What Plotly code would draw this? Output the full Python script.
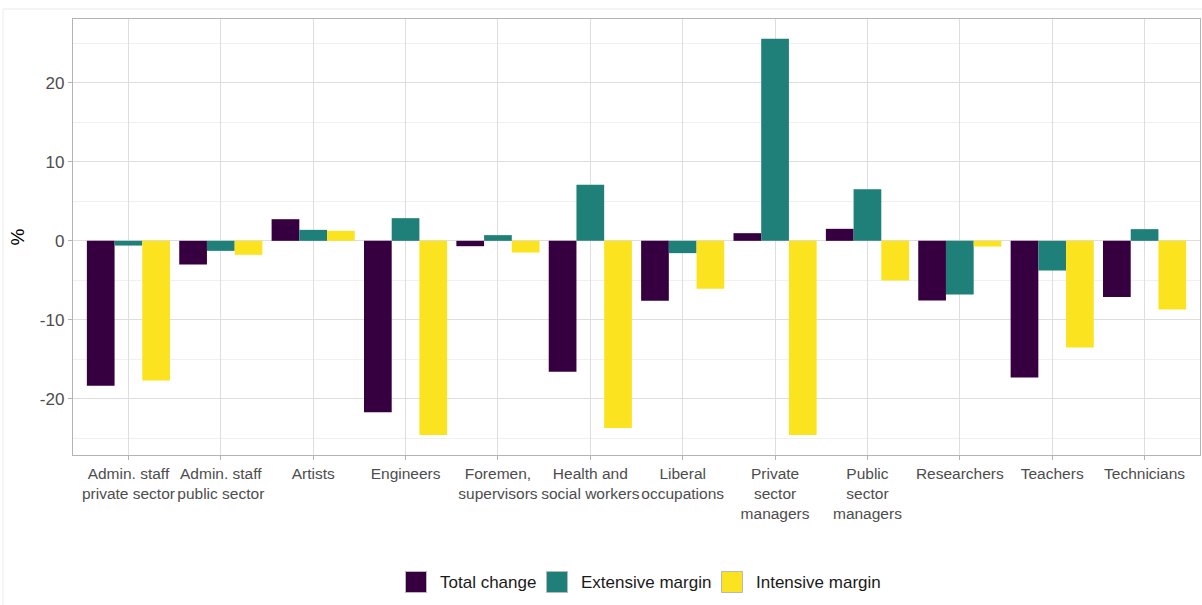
import plotly.graph_objects as go

categories = ["Admin. staff<br>private sector", "Admin. staff<br>public sector", "Artists", "Engineers",
              "Foremen,<br>supervisors", "Health and<br>social workers", "Liberal<br>occupations",
              "Private<br>sector<br>managers", "Public<br>sector<br>managers", "Researchers",
              "Teachers", "Technicians"]
total_change = [-18.35, -3.0, 2.74, -21.7, -0.68, -16.6, -7.59, 0.97, 1.52, -7.55, -17.3, -7.13]
extensive_margin = [-0.6, -1.27, 1.39, 2.87, 0.72, 7.09, -1.56, 25.6, 6.54, -6.79, -3.76, 1.48]
intensive_margin = [-17.7, -1.77, 1.27, -24.6, -1.48, -23.7, -6.08, -24.6, -5.02, -0.72, -13.5, -8.69]
y_ticks = [-20, -10, 0, 10, 20]
series_names = ["Total change", "Extensive margin", "Intensive margin"]
series_colors = ["#360040", "#1F7F79", "#FBE41F"]

W, H = 1202, 605
L, R, T, B = 73, 2, 19, 150
PW, PH = W - L - R, H - T - B


def px_x(p):
    return (p - L) / PW


def px_y(p):
    return (H - B - p) / PH


fig = go.Figure()
xs = list(range(len(categories)))
for name, vals, col in zip(series_names, [total_change, extensive_margin, intensive_margin], series_colors):
    fig.add_trace(go.Bar(x=xs, y=vals, name=name, marker=dict(color=col, line=dict(width=0)),
                         showlegend=False))

shapes = [dict(type="rect", xref="paper", yref="paper",
               x0=px_x(3), x1=px_x(1215), y0=px_y(620), y1=px_y(9),
               line=dict(color="#EBEBEB", width=1), fillcolor="rgba(0,0,0,0)", layer="below")]
annotations = []
key_x = [405.5, 546.5, 721.5]
text_x = [437.5, 579, 753.5]
for name, col, kx, tx in zip(series_names, series_colors, key_x, text_x):
    shapes.append(dict(type="rect", xref="paper", yref="paper",
                       x0=px_x(kx), x1=px_x(kx + 21), y0=px_y(592.5), y1=px_y(571.5),
                       line=dict(color="#B8B8B8", width=1), fillcolor=col))
    annotations.append(dict(text=name, xref="paper", yref="paper", x=px_x(tx), y=px_y(582),
                            xanchor="left", yanchor="middle", showarrow=False,
                            font=dict(size=17, color="#1A1A1A")))

fig.update_layout(
    width=W, height=H,
    margin=dict(l=L, r=R, t=T, b=B),
    paper_bgcolor="white", plot_bgcolor="white",
    barmode="group", bargap=0.1, bargroupgap=0,
    font=dict(family="Liberation Sans, Arial, sans-serif", color="#4D4D4D"),
    showlegend=False,
    shapes=shapes, annotations=annotations,
)
fig.update_xaxes(
    range=[-0.6, 11.6], tickmode="array", tickvals=xs, ticktext=categories,
    tickfont=dict(size=15.5, color="#4D4D4D"), tickangle=0,
    showgrid=True, gridcolor="#DEDEDE", gridwidth=1,
    ticks="outside", ticklen=4, tickcolor="#B3B3B3",
    showline=True, linecolor="#B3B3B3", linewidth=1.3, mirror=True, zeroline=False,
)
fig.update_yaxes(
    range=[-27.13, 28.1], tickmode="array", tickvals=y_ticks, ticktext=[str(v) for v in y_ticks],
    tickfont=dict(size=17, color="#4D4D4D"),
    showgrid=True, gridcolor="#DEDEDE", gridwidth=1,
    minor=dict(tickmode="array", tickvals=[-25, -15, -5, 5, 15, 25], showgrid=True,
               gridcolor="#F0F0F0", gridwidth=1, ticks=""),
    ticks="outside", ticklen=4, tickcolor="#B3B3B3",
    showline=True, linecolor="#B3B3B3", linewidth=1.3, mirror=True, zeroline=False,
    title=dict(text="%", font=dict(size=19, color="#000000"), standoff=10),
)
fig.write_html("out.html", config={"displayModeBar": False},
               post_script="document.body.style.margin='0';")
